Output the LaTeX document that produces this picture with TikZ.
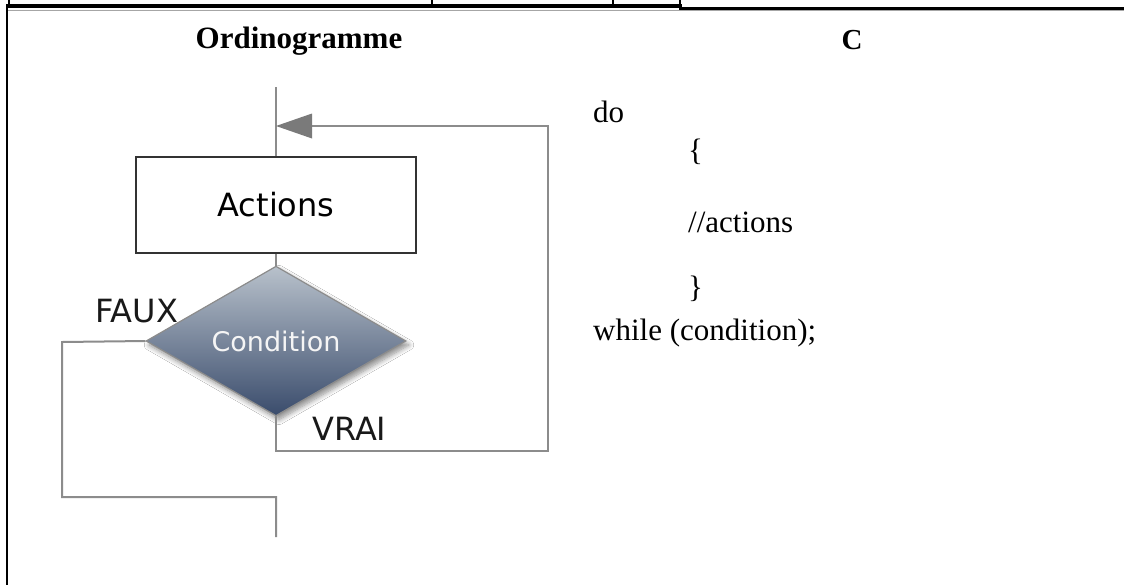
\documentclass[tikz,border=0pt]{standalone}
\usepackage{fontspec}
\setmainfont{Liberation Serif}
\newfontfamily\flowfont{DejaVu Sans}
\usetikzlibrary{shapes.geometric,arrows.meta,shadows.blur}
\definecolor{linegray}{HTML}{8C8C8C}
\definecolor{tipgray}{HTML}{7A7A7A}
\definecolor{condtop}{HTML}{B8C1CB}
\definecolor{condbot}{HTML}{3A4C6C}
\tikzset{
  flow/.style={draw=linegray, line width=2pt},
  actbox/.style={draw=black!80, line width=1.6pt, fill=white, minimum width=280pt,
    minimum height=96pt, inner sep=0pt, font=\flowfont\fontsize{32}{38}\selectfont},
  decision/.style={diamond, draw=linegray, line width=1.2pt, inner sep=0pt,
    minimum width=260pt, minimum height=122pt, top color=condtop, bottom color=condbot,
    text=black!4, font=\flowfont\fontsize{27}{32}\selectfont,
    blur shadow={shadow xshift=3pt, shadow yshift=-4pt, shadow blur radius=5pt,
      shadow blur steps=8, shadow opacity=45}},
  branchlbl/.style={inner sep=0pt, anchor=base west, text=black!90,
    font=\flowfont\fontsize{32}{38}\selectfont},
  headlbl/.style={inner sep=0pt, anchor=base, font=\bfseries\fontsize{31}{36}\selectfont},
  codeline/.style={inner sep=0pt, anchor=base west, font=\fontsize{31}{36}\selectfont},
  rule/.style={draw=black, line cap=rect}
}
\begin{document}
\begin{tikzpicture}[x=1pt, y=-1pt]
\useasboundingbox (0,0) rectangle (1124,584);
\fill[white] (0,0) rectangle (1124,584);

% table rules
\draw[rule, line width=4pt] (8,6) -- (680,6);
\foreach \xv in {9,432,613,680} \draw[rule, line width=2pt] (\xv,0) -- (\xv,6);
\draw[rule, line width=2.5pt] (680,8.5) -- (1124,8.5);
\draw[black!35, line width=1pt] (8,10.5) -- (1124,10.5);
\draw[rule, line width=2.5pt] (7,8) -- (7,584);

% column headings
\node[headlbl] (hflow) at (299,48) {Ordinogramme};
\node[headlbl, font=\bfseries\fontsize{29}{34}\selectfont] (hcode) at (852,49) {C};

% flowchart
\coordinate (entry) at (276,87);
\coordinate (join) at (276,126);
\node[actbox] (act) at (276,205) {Actions};
\node[decision] (cond) at (276,341) {Condition};
\coordinate (fl) at (62,342);
\coordinate (fb) at (62,497);
\coordinate (fm) at (276,497);
\coordinate (exit) at (276,537);
\coordinate (tb) at (276,451);
\coordinate (tr) at (548,451);
\coordinate (tt) at (548,126);

\draw[flow] (entry) -- (act.north);
\draw[flow] (act.south) -- (cond.north);
\draw[flow] (cond.west) -- (fl) -- (fb) -- (fm) -- (exit);
\draw[flow, -{Triangle[length=36pt, width=25pt, fill=tipgray, line width=0pt]}]
  (cond.south) -- (tb) -- (tr) -- (tt) -- (join);

\node[branchlbl] (faux) at (95,322) {FAUX};
\node[branchlbl] (vrai) at (312,440) {VRAI};

% C code
\node[codeline] (c1) at (593,122) {do};
\node[codeline] (c2) at (688,160) {\{};
\node[codeline] (c3) at (688,232) {//actions};
\node[codeline] (c4) at (688,297) {\}};
\node[codeline] (c5) at (593,340) {while (condition);};
\end{tikzpicture}
\end{document}
